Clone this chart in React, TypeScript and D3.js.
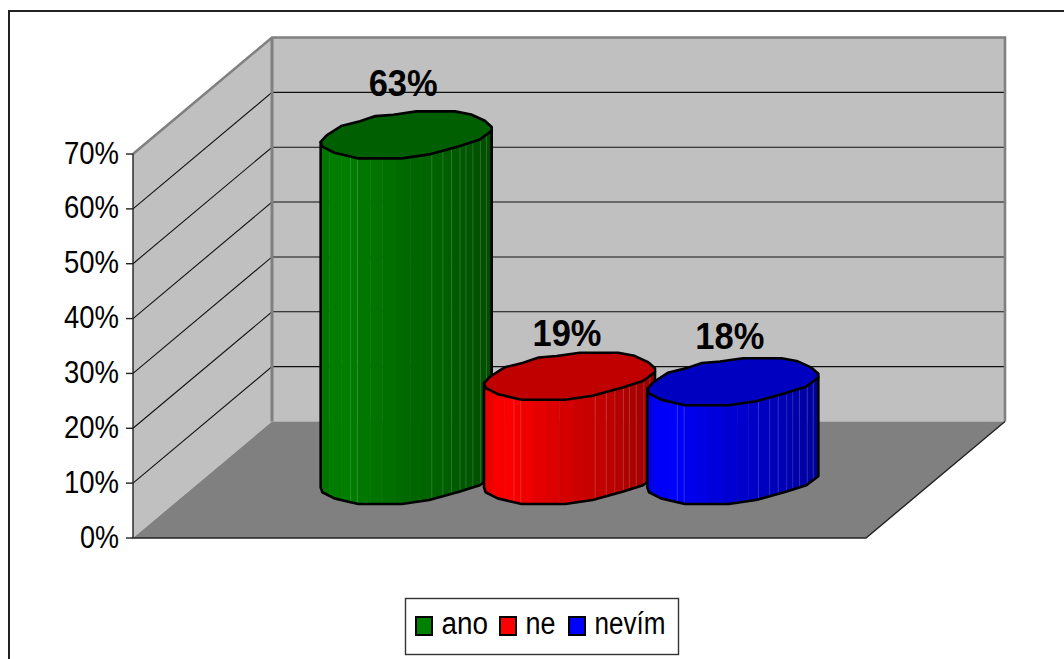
import React from "react";
import * as d3 from "d3";

// Survey answers
const categories = ["ano", "ne", "nevím"];
const shares = [63, 19, 18];
const sideColors = ["#008000", "#ff0000", "#0000ff"];
const topColors = ["#005f00", "#c00000", "#0000c0"];
const axisTicks = [0, 10, 20, 30, 40, 50, 60, 70];

// Faceted cross-section of a column: unit offsets walking round the top face
const rimOutline: [number, number][] = [
  [-1, 0.3], [-0.93, 0.02], [-0.76, -0.38], [-0.54, -0.58], [-0.36, -0.8], [-0.15, -0.86],
  [0.12, -1], [0.57, -1], [0.76, -0.87], [0.92, -0.6], [1, -0.34], [1, -0.18],
  [0.86, 0.2], [0.62, 0.48], [0.27, 0.83], [-0.05, 1], [-0.56, 1], [-0.7, 0.88],
  [-0.84, 0.76], [-0.98, 0.5],
];
// Front half of the rim, left to right, along which the base curve is traced
const frontPath: [number, number][] = [[-1, 0.3], ...rimOutline.slice(10).reverse()];
// Shading strips across the column width; the listed edges also carry a faint seam
const facetStops = [
  -1, -0.9, -0.76, -0.65, -0.57, -0.42, -0.28, -0.12, 0.05, 0.18, 0.3, 0.43, 0.53, 0.63, 0.7, 0.78, 0.87, 0.94, 1,
];
const seamStops = [-0.65, -0.57, 0.3, 0.43, 0.53, 0.63, 0.7, 0.78, 0.87, 0.94];
const tone = d3.scaleLinear().domain([-1, -0.76, -0.5, 0, 0.35, 0.6, 1]).range([0.9, 1, 0.93, 0.82, 0.76, 0.7, 0.6]);

const W = 1064;
const H = 659;
const depth = { x: 139, y: -116.5 };
const plotLeft = 133;
const plotRight = 866;
const y = d3.scaleLinear().domain([0, 70]).range([538, 154]);
const band = d3.scaleBand<string>().domain(categories).range([324.5, 814.5]).paddingInner(0);
const halfW = 85.5;
const halfH = 23.5;
const baseOffset = -57.5;
const labelLift = [39, 30, 33];
const labelShift = [-3, -2.5, -3];

const line = d3.line<[number, number]>();

function shade(color: string, t: number) {
  const c = d3.rgb(color);
  return d3.rgb(c.r * t, c.g * t, c.b * t).formatHex();
}

function Column({ i }: { i: number }) {
  const cx = band(categories[i])! + band.bandwidth() / 2;
  const baseY = y(0) + baseOffset;
  const topY = y(shares[i]) + baseOffset;
  const rim = rimOutline.map(([a, b]) => [cx + a * halfW, topY + b * halfH] as [number, number]);
  const front = frontPath.map(([a, b]) => [cx + a * halfW, baseY + b * halfH] as [number, number]);
  const back: [number, number][] = [[cx + halfW, topY - 0.18 * halfH], [cx - halfW, topY + 0.3 * halfH]];
  const body = line([...front, ...back]) + "Z";
  const clipId = `col-${i}`;
  return (
    <g>
      <clipPath id={clipId}><path d={body} /></clipPath>
      <g clipPath={`url(#${clipId})`}>
        {facetStops.slice(0, -1).map((s, k) => (
          <rect
            key={k}
            x={cx + s * halfW}
            y={topY - halfH}
            width={(facetStops[k + 1] - s) * halfW + 0.4}
            height={baseY - topY + 2 * halfH}
            fill={shade(sideColors[i], tone((s + facetStops[k + 1]) / 2))}
          />
        ))}
        {seamStops.map((s) => (
          <line
            key={s}
            x1={cx + s * halfW}
            x2={cx + s * halfW}
            y1={topY - halfH}
            y2={baseY + halfH}
            stroke="#fff"
            strokeOpacity={0.16}
            strokeWidth={1}
          />
        ))}
      </g>
      <path d={body} fill="none" stroke="#000" strokeWidth={2.6} strokeLinejoin="round" />
      <path d={line(rim) + "Z"} fill={topColors[i]} stroke="#000" strokeWidth={2.6} strokeLinejoin="round" />
      <text
        x={cx + labelShift[i]}
        y={topY - labelLift[i]}
        textAnchor="middle"
        fontFamily="Liberation Sans"
        fontWeight="bold"
        fontSize={37}
        textLength={69}
        lengthAdjust="spacingAndGlyphs"
        fill="#000"
      >
        {`${shares[i]}%`}
      </text>
    </g>
  );
}

const legendItems = [
  { swatch: 416, text: 441.5, width: 46.5 },
  { swatch: 500, text: 525.5, width: 30 },
  { swatch: 569, text: 594.5, width: 71 },
];

export default function App() {
  const wallTop = y(70);
  const wallBottom = y(0);
  return (
    <svg
      width={W}
      height={H}
      viewBox={`0 0 ${W} ${H}`}
      style={{ position: "absolute", left: 0, top: 0, display: "block" }}
    >
      <rect x={0} y={0} width={W} height={H} fill="#fff" />
      <rect x={9} y={11} width={W} height={H} fill="#fff" stroke="#222" strokeWidth={2} />

      {/* back wall, side wall and floor */}
      <rect
        x={plotLeft + depth.x}
        y={wallTop + depth.y}
        width={plotRight - plotLeft}
        height={wallBottom - wallTop}
        fill="#c0c0c0"
      />
      <path
        d={line([
          [plotLeft, wallBottom],
          [plotLeft, wallTop],
          [plotLeft + depth.x, wallTop + depth.y],
          [plotLeft + depth.x, wallBottom + depth.y],
        ]) + "Z"}
        fill="#c0c0c0"
      />
      <path
        d={line([
          [plotLeft, wallBottom],
          [plotRight, wallBottom],
          [plotRight + depth.x, wallBottom + depth.y],
          [plotLeft + depth.x, wallBottom + depth.y],
        ]) + "Z"}
        fill="#808080"
      />

      {/* gridlines on both walls */}
      {axisTicks.filter((t) => t > 0 && t < 70).map((t) => (
        <path
          key={t}
          d={line([
            [plotLeft, y(t)],
            [plotLeft + depth.x, y(t) + depth.y],
            [plotRight + depth.x, y(t) + depth.y],
          ])!}
          fill="none"
          stroke="#111"
          strokeWidth={1.1}
        />
      ))}

      {/* wall edges */}
      <path
        d={line([
          [plotLeft, wallTop],
          [plotLeft + depth.x, wallTop + depth.y],
          [plotRight + depth.x, wallTop + depth.y],
          [plotRight + depth.x, wallBottom + depth.y],
        ])!}
        fill="none"
        stroke="#808080"
        strokeWidth={2.6}
      />
      <line
        x1={plotLeft + depth.x}
        x2={plotLeft + depth.x}
        y1={wallTop + depth.y}
        y2={wallBottom + depth.y}
        stroke="#808080"
        strokeWidth={3}
      />
      <path
        d={line([
          [plotRight + depth.x, wallBottom + depth.y],
          [plotRight, wallBottom],
          [plotLeft, wallBottom],
          [plotLeft, wallTop],
        ])!}
        fill="none"
        stroke="#222"
        strokeWidth={1.4}
      />

      {/* value axis */}
      {axisTicks.map((t) => (
        <g key={t}>
          <line x1={126} x2={plotLeft} y1={y(t)} y2={y(t)} stroke="#222" strokeWidth={1.4} />
          <text
            x={119}
            y={y(t) + 9.5}
            textAnchor="end"
            fontFamily="Liberation Sans"
            fontSize={31}
            textLength={t === 0 ? 39 : 55}
            lengthAdjust="spacingAndGlyphs"
            fill="#000"
          >
            {`${t}%`}
          </text>
        </g>
      ))}

      {categories.map((_, i) => <Column key={i} i={i} />)}

      {/* legend */}
      <rect x={405.5} y={598.5} width={273} height={56} fill="#fff" stroke="#333" strokeWidth={1.4} />
      {categories.map((c, i) => (
        <g key={c}>
          <rect
            x={legendItems[i].swatch}
            y={617}
            width={16}
            height={18}
            fill={sideColors[i]}
            stroke="#000"
            strokeWidth={2}
          />
          <text
            x={legendItems[i].text}
            y={634}
            fontFamily="Liberation Sans"
            fontSize={31}
            textLength={legendItems[i].width}
            lengthAdjust="spacingAndGlyphs"
            fill="#000"
          >
            {c}
          </text>
        </g>
      ))}
    </svg>
  );
}
